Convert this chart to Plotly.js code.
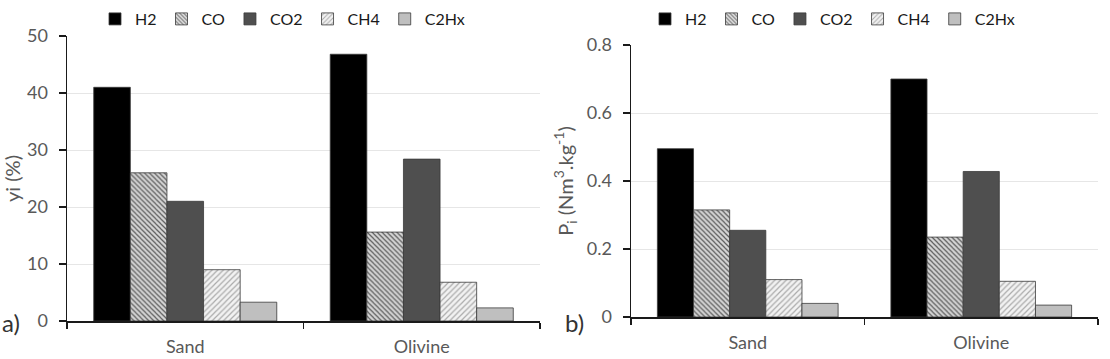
<!DOCTYPE html>
<html>
<head>
<meta charset="utf-8">
<script src="https://cdn.plot.ly/plotly-3.0.1.min.js"></script>
<style>
  html, body { margin: 0; padding: 0; background: #fff; }
  #chart { width: 1110px; height: 359px; }
</style>
</head>
<body>
<div id="chart"></div>
<script>
// Bed materials compared
const beds = ['Sand', 'Olivine'];
const gases = ['H2', 'CO', 'CO2', 'CH4', 'C2Hx'];

// a) gas composition, yi (%)
const yiH2   = [41.0, 46.8];
const yiCO   = [26.0, 15.6];
const yiCO2  = [21.0, 28.4];
const yiCH4  = [9.0, 6.8];
const yiC2Hx = [3.3, 2.3];

// b) gas production, Pi (Nm3/kg)
const pH2   = [0.495, 0.70];
const pCO   = [0.315, 0.235];
const pCO2  = [0.255, 0.428];
const pCH4  = [0.11, 0.105];
const pC2Hx = [0.04, 0.035];

const yiSeries = [yiH2, yiCO, yiCO2, yiCH4, yiC2Hx];
const pSeries  = [pH2, pCO, pCO2, pCH4, pC2Hx];

const FONT = 'Lato, "Open Sans", sans-serif';
const TXT = '#595959';

const outline = { color: '#3a3a3a', width: 0.8 };
const styles = [
  { color: '#000000', line: outline },
  { color: '#cfcfcf', line: outline,
    pattern: { shape: '\\', bgcolor: '#d6d6d6', fgcolor: '#5e5e5e', size: 3.5, solidity: 0.35 } },
  { color: '#4f4f4f', line: outline },
  { color: '#eeeeee', line: outline,
    pattern: { shape: '/', bgcolor: '#f2f2f2', fgcolor: '#ababab', size: 4, solidity: 0.3 } },
  { color: '#bfbfbf', line: outline }
];

const traces = [];
gases.forEach((g, i) => {
  traces.push({
    type: 'bar', name: g, x: beds, y: yiSeries[i],
    xaxis: 'x', yaxis: 'y', legend: 'legend',
    marker: styles[i]
  });
});
gases.forEach((g, i) => {
  traces.push({
    type: 'bar', name: g, x: beds, y: pSeries[i],
    xaxis: 'x2', yaxis: 'y2', legend: 'legend2',
    marker: styles[i]
  });
});

const W = 1110, H = 359;
const px = v => v / W;
const py = v => 1 - v / H;

function xAxis(domain, anchor) {
  return {
    domain: domain, anchor: anchor, type: 'category',
    showline: true, linecolor: '#1a1a1a', linewidth: 1.5,
    ticks: 'outside', tickson: 'boundaries', ticklen: 6, tickcolor: '#1a1a1a', tickwidth: 1.5,
    ticklabelstandoff: 9,
    tickfont: { family: FONT, size: 18, color: TXT },
    showgrid: false, zeroline: false, automargin: false, fixedrange: true
  };
}
function yAxis(domain, anchor, range, dtick, fmt, title, standoff) {
  return {
    domain: domain, anchor: anchor, range: range, dtick: dtick, tickformat: fmt,
    showline: true, linecolor: '#1a1a1a', linewidth: 1.5,
    ticks: 'outside', ticklen: 7, tickcolor: '#1a1a1a', tickwidth: 1.5,
    ticklabelstandoff: 7,
    tickfont: { family: FONT, size: 18, color: TXT },
    showgrid: true, gridcolor: '#e6e6e6', gridwidth: 1, zeroline: false,
    title: { text: title, font: { family: FONT, size: 20, color: TXT }, standoff: standoff },
    automargin: true, fixedrange: true
  };
}

const legendBase = {
  orientation: 'h', yanchor: 'top', y: py(2), xanchor: 'left',
  font: { family: FONT, size: 16, color: '#1a1a1a' },
  bgcolor: 'rgba(0,0,0,0)', itemwidth: 30, tracegroupgap: 0
};

const layout = {
  width: W, height: H,
  margin: { l: 0, r: 0, t: 0, b: 0, autoexpand: false },
  paper_bgcolor: '#ffffff', plot_bgcolor: '#ffffff',
  barmode: 'group', bargap: 0.226, bargroupgap: 0,
  xaxis: xAxis([px(67), px(540)], 'y'),
  yaxis: yAxis([1 - 321 / H, 1 - 36 / H], 'x', [0, 50], 10, 'd', 'yi (%)', 22),
  xaxis2: xAxis([px(631), px(1098)], 'y2'),
  yaxis2: yAxis([1 - 317 / H, 1 - 45 / H], 'x2', [0, 0.8], 0.2, '.1~f',
    'P<sub>i</sub> (Nm<sup>3</sup>.kg<sup>-1</sup>)', 8),
  legend: Object.assign({}, legendBase, { x: px(95) }),
  legend2: Object.assign({}, legendBase, { x: px(645) }),
  annotations: [
    { text: 'a)', xref: 'paper', yref: 'paper', x: px(0), y: py(322),
      xanchor: 'left', yanchor: 'middle', showarrow: false,
      font: { family: FONT, size: 24, color: '#333333' } },
    { text: 'b)', xref: 'paper', yref: 'paper', x: px(563), y: py(322),
      xanchor: 'left', yanchor: 'middle', showarrow: false,
      font: { family: FONT, size: 24, color: '#333333' } }
  ]
};

Plotly.newPlot('chart', traces, layout, { displayModeBar: false, staticPlot: true });
</script>
</body>
</html>
